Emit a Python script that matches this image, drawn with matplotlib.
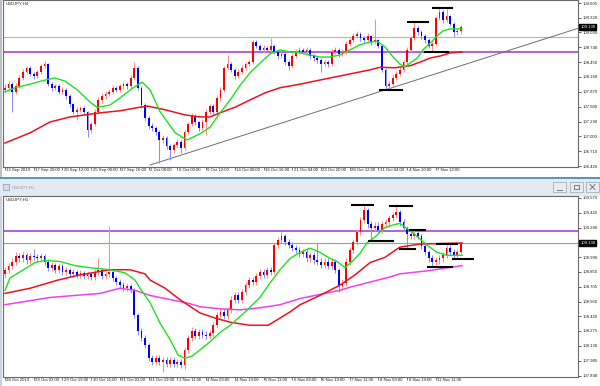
import numpy as np
import matplotlib
matplotlib.use("Agg")
import matplotlib.pyplot as plt
from matplotlib.patches import Rectangle
from matplotlib.transforms import blended_transform_factory

plt.rcParams['font.family'] = ['Liberation Sans', 'DejaVu Sans']

# ---------------- USDJPY H4 (top window) ----------------
h4_open = [107.90, 107.95, 108.02, 107.87, 107.98, 108.14, 108.26, 108.34, 108.22, 108.18,
           108.26, 108.38, 108.41, 108.02, 107.95, 107.98, 107.87, 107.91, 107.79, 107.63,
           107.48, 107.52, 107.55, 107.48, 107.13, 107.24, 107.48, 107.71, 107.79, 107.83,
           107.87, 107.95, 107.91, 107.98, 108.02, 107.98, 108.14, 108.34, 107.95, 107.61,
           107.36, 107.20, 107.16, 107.09, 106.93, 106.97, 106.81, 106.73, 106.83, 106.89,
           106.77, 107.09, 107.24, 107.40, 107.28, 107.16, 107.28, 107.48, 107.59, 107.48,
           107.75, 107.91, 108.34, 108.41, 108.30, 108.18, 108.26, 108.34, 108.41, 108.45,
           108.84, 108.77, 108.69, 108.73, 108.69, 108.77, 108.65, 108.57, 108.61, 108.45,
           108.38, 108.57, 108.65, 108.69, 108.65, 108.69, 108.57, 108.53, 108.49, 108.41,
           108.45, 108.41, 108.65, 108.69, 108.61, 108.65, 108.81, 108.88, 108.96, 109.00,
           108.92, 108.88, 108.96, 108.84, 108.88, 108.77, 108.30, 107.98, 108.02, 108.14,
           108.22, 108.30, 108.45, 108.69, 108.92, 109.12, 109.04, 108.96, 108.88, 108.77,
           108.81, 109.31, 109.43, 109.27, 109.35, 109.20, 109.04, 109.05]
h4_high = [108.02, 108.08, 108.06, 108.04, 108.19, 108.31, 108.38, 108.37, 108.26, 108.30,
           108.42, 108.47, 108.44, 108.06, 108.03, 108.02, 107.96, 107.94, 107.83, 107.66,
           107.57, 107.60, 107.59, 107.50, 107.29, 107.53, 107.76, 107.84, 107.89, 107.92,
           108.00, 107.99, 108.03, 108.07, 108.06, 108.19, 108.45, 108.38, 107.98, 107.65,
           107.40, 107.26, 107.20, 107.12, 107.03, 107.00, 106.86, 106.88, 106.94, 106.92,
           107.13, 107.29, 107.45, 107.44, 107.31, 107.33, 107.53, 107.64, 107.63, 107.80,
           107.96, 108.38, 108.59, 108.45, 108.33, 108.31, 108.39, 108.46, 108.50, 108.88,
           108.88, 108.80, 108.78, 108.77, 108.92, 108.80, 108.69, 108.66, 108.64, 108.49,
           108.62, 108.70, 108.74, 108.73, 108.74, 108.72, 108.61, 108.57, 108.53, 108.50,
           108.49, 108.70, 108.74, 108.72, 108.70, 108.86, 108.93, 109.01, 109.05, 109.03,
           108.96, 109.01, 108.99, 109.29, 108.91, 108.80, 108.33, 108.08, 108.19, 108.27,
           108.35, 108.50, 108.74, 108.97, 109.23, 109.16, 109.08, 109.00, 108.92, 108.86,
           109.35, 109.51, 109.46, 109.49, 109.38, 109.23, 109.09, 109.17]
h4_low = [107.84, 107.90, 107.48, 107.82, 107.94, 108.10, 108.21, 108.18, 108.12, 108.14,
          108.22, 108.33, 107.98, 107.89, 107.90, 107.82, 107.83, 107.74, 107.58, 107.43,
          107.32, 107.47, 107.42, 106.99, 107.06, 107.20, 107.44, 107.66, 107.74, 107.78,
          107.82, 107.86, 107.87, 107.93, 107.93, 107.94, 108.10, 107.90, 107.56, 107.31,
          107.15, 107.10, 107.03, 106.48, 106.87, 106.76, 106.54, 106.68, 106.78, 106.68,
          106.73, 107.05, 107.20, 107.23, 107.11, 107.12, 107.03, 107.44, 107.43, 107.44,
          107.70, 107.87, 108.30, 108.25, 108.12, 108.14, 108.22, 108.30, 108.37, 108.41,
          108.72, 108.64, 108.65, 108.64, 108.65, 108.60, 108.52, 108.53, 108.40, 108.30,
          108.34, 108.53, 108.61, 108.60, 108.61, 108.52, 108.48, 108.44, 108.26, 108.37,
          108.36, 108.37, 108.61, 108.56, 108.57, 108.61, 108.77, 108.84, 108.92, 108.87,
          108.83, 108.84, 108.79, 108.80, 108.72, 108.25, 107.91, 107.91, 107.98, 108.10,
          108.18, 108.26, 108.41, 108.65, 108.88, 108.99, 108.91, 108.83, 108.72, 108.67,
          108.77, 109.27, 109.22, 109.23, 109.15, 108.94, 108.99, 109.00]
h4_close = [107.95, 108.02, 107.87, 107.98, 108.14, 108.26, 108.34, 108.22, 108.18, 108.26,
            108.38, 108.41, 108.02, 107.95, 107.98, 107.87, 107.91, 107.79, 107.63, 107.48,
            107.52, 107.55, 107.48, 107.13, 107.24, 107.48, 107.71, 107.79, 107.83, 107.87,
            107.95, 107.91, 107.98, 108.02, 107.98, 108.14, 108.34, 107.95, 107.61, 107.36,
            107.20, 107.16, 107.09, 106.93, 106.97, 106.81, 106.73, 106.83, 106.89, 106.77,
            107.09, 107.24, 107.40, 107.28, 107.16, 107.28, 107.48, 107.59, 107.48, 107.75,
            107.91, 108.34, 108.41, 108.30, 108.18, 108.26, 108.34, 108.41, 108.45, 108.84,
            108.77, 108.69, 108.73, 108.69, 108.77, 108.65, 108.57, 108.61, 108.45, 108.38,
            108.57, 108.65, 108.69, 108.65, 108.69, 108.57, 108.53, 108.49, 108.41, 108.45,
            108.41, 108.65, 108.69, 108.61, 108.65, 108.81, 108.88, 108.96, 109.00, 108.92,
            108.88, 108.96, 108.84, 108.88, 108.77, 108.30, 107.98, 108.02, 108.14, 108.22,
            108.30, 108.45, 108.69, 108.92, 109.12, 109.04, 108.96, 108.88, 108.77, 108.81,
            109.31, 109.43, 109.27, 109.35, 109.20, 109.04, 109.05, 109.13]

# moving averages (candle index, price)
h4_fast_x = [0.0, 2.8, 7.0, 11.1, 13.9, 16.7, 20.1, 23.7, 25.6, 29.2, 32.0, 35.7, 38.2, 40.4,
             43.2, 47.4, 50.7, 54.3, 57.1, 59.9, 62.7, 65.5, 68.2, 71.0, 73.8, 76.6, 79.4,
             82.2, 85.0, 87.7, 90.5, 93.3, 96.1, 98.9, 101.7, 103.6, 105.8, 108.1, 110.0,
             111.4, 112.8, 114.8, 116.4, 118.4, 120.3, 122.0, 124.0, 127.3]
h4_fast_y = [107.87, 107.95, 108.02, 108.10, 108.14, 108.08, 107.91, 107.67, 107.57, 107.61,
             107.75, 107.95, 108.06, 107.91, 107.48, 107.07, 106.93, 107.05, 107.18, 107.46,
             107.71, 108.00, 108.24, 108.43, 108.61, 108.69, 108.65, 108.63, 108.59, 108.55,
             108.55, 108.59, 108.69, 108.79, 108.84, 108.86, 108.75, 108.55, 108.41, 108.36,
             108.43, 108.53, 108.69, 108.82, 108.96, 109.06, 109.10, 109.10]
h4_slow_x = [0.0, 7.0, 12.5, 18.1, 26.5, 32.0, 37.6, 39.8, 44.6, 50.1, 54.3, 57.1, 59.9, 64.1,
             68.2, 72.4, 76.6, 82.2, 87.7, 93.3, 97.5, 101.7, 104.5, 108.6, 112.8, 115.6,
             118.4, 121.2, 124.0, 127.3]
h4_slow_y = [106.87, 107.07, 107.28, 107.38, 107.46, 107.50, 107.57, 107.59, 107.52, 107.42,
             107.38, 107.38, 107.46, 107.57, 107.71, 107.85, 107.95, 108.02, 108.10, 108.18,
             108.24, 108.30, 108.35, 108.34, 108.38, 108.45, 108.53, 108.57, 108.63, 108.65]
h4_trend_x = [40.4, 160.0]
h4_trend_y = [106.44, 109.12]
h4_hlines = [(108.94, '#9cc89c', 0.8), (108.65, '#b45ee0', 1.4)]
h4_marks = [(104.5, 110.6, 107.91), (112.3, 117.8, 109.23), (117.0, 123.4, 108.65),
            (119.2, 124.5, 109.51)]
h4_yticks = ["109.605", "109.320", "109.030", "108.740", "108.450", "108.160", "107.870",
             "107.580", "107.290", "107.000", "106.710", "106.420"]
h4_xlabels = ["13 Sep 2019", "17 Sep 20:00", "20 Sep 12:00", "25 Sep 00:00", "27 Sep 16:00",
              "2 Oct 08:00", "6 Oct 00:00", "9 Oct 12:00", "14 Oct 00:00", "16 Oct 16:00",
              "21 Oct 04:00", "23 Oct 20:00", "28 Oct 12:00", "31 Oct 04:00", "4 Nov 20:00",
              "7 Nov 12:00"]

# ---------------- USDJPY H1 (bottom window) ----------------
h1_open = [108.83, 108.87, 108.91, 108.95, 109.00, 108.98, 109.01, 108.96, 109.00, 108.99,
           108.98, 109.00, 108.95, 108.89, 108.92, 108.87, 108.91, 108.85, 108.87, 108.83,
           108.85, 108.82, 108.84, 108.81, 108.83, 108.80, 108.85, 108.87, 108.81, 108.83,
           108.85, 108.79, 108.75, 108.72, 108.69, 108.71, 108.67, 108.43, 108.27, 108.21,
           108.14, 108.01, 107.97, 108.01, 107.97, 107.99, 107.95, 107.99, 107.95, 107.97,
           107.94, 108.09, 108.21, 108.27, 108.23, 108.26, 108.24, 108.23, 108.25, 108.33,
           108.43, 108.46, 108.42, 108.48, 108.58, 108.62, 108.58, 108.65, 108.72, 108.77,
           108.75, 108.81, 108.85, 108.82, 108.87, 108.85, 109.11, 109.16, 109.20, 109.14,
           109.11, 109.08, 109.06, 109.02, 109.04, 108.98, 109.01, 108.96, 108.95, 108.92,
           108.95, 108.91, 108.95, 108.87, 108.71, 108.74, 108.95, 109.06, 109.14, 109.24,
           109.35, 109.45, 109.31, 109.28, 109.30, 109.26, 109.31, 109.33, 109.37, 109.40,
           109.43, 109.33, 109.28, 109.22, 109.20, 109.23, 109.20, 109.10, 109.04, 108.98,
           108.95, 108.96, 108.98, 109.01, 109.08, 109.04, 109.00, 109.04]
h1_high = [108.90, 108.94, 108.98, 109.04, 109.03, 109.04, 109.03, 109.03, 109.07, 109.02,
           109.03, 109.02, 108.97, 108.95, 108.94, 108.94, 108.93, 108.90, 108.89, 108.88,
           108.87, 108.87, 108.86, 108.86, 108.85, 108.88, 108.98, 108.89, 108.86, 109.30,
           108.87, 108.81, 108.78, 108.75, 108.74, 108.73, 108.69, 108.45, 108.30, 108.24,
           108.16, 108.04, 108.04, 108.04, 108.02, 108.02, 108.02, 108.02, 108.00, 108.00,
           108.12, 108.24, 108.31, 108.30, 108.29, 108.29, 108.27, 108.28, 108.36, 108.46,
           108.49, 108.49, 108.51, 108.61, 108.65, 108.65, 108.68, 108.75, 108.80, 108.80,
           108.84, 108.88, 108.88, 108.90, 108.90, 109.14, 109.19, 109.24, 109.22, 109.17,
           109.14, 109.11, 109.09, 109.07, 109.07, 109.04, 109.04, 109.13, 108.98, 108.98,
           108.98, 108.98, 108.97, 108.89, 108.78, 108.98, 109.09, 109.17, 109.27, 109.38,
           109.50, 109.47, 109.34, 109.33, 109.33, 109.34, 109.36, 109.40, 109.43, 109.49,
           109.45, 109.36, 109.30, 109.25, 109.26, 109.26, 109.22, 109.12, 109.06, 109.01,
           108.99, 109.01, 109.04, 109.11, 109.11, 109.07, 109.07, 109.14]
h1_low = [108.79, 108.84, 108.88, 108.92, 108.95, 108.95, 108.93, 108.93, 108.96, 108.95,
          108.95, 108.92, 108.86, 108.86, 108.84, 108.84, 108.82, 108.82, 108.80, 108.80,
          108.79, 108.79, 108.78, 108.78, 108.77, 108.77, 108.82, 108.78, 108.78, 108.80,
          108.76, 108.72, 108.69, 108.66, 108.66, 108.64, 108.40, 108.24, 108.18, 108.11,
          107.98, 107.94, 107.94, 107.94, 107.88, 107.92, 107.92, 107.92, 107.92, 107.91,
          107.90, 108.06, 108.18, 108.20, 108.20, 108.21, 108.20, 108.20, 108.22, 108.30,
          108.40, 108.39, 108.39, 108.45, 108.55, 108.55, 108.55, 108.62, 108.69, 108.72,
          108.72, 108.78, 108.79, 108.79, 108.82, 108.83, 109.08, 109.13, 109.11, 109.08,
          109.05, 109.03, 108.99, 108.99, 108.95, 108.95, 108.93, 108.92, 108.89, 108.89,
          108.88, 108.88, 108.84, 108.65, 108.68, 108.71, 108.92, 109.03, 109.11, 109.21,
          109.32, 109.28, 109.15, 109.25, 109.23, 109.23, 109.28, 109.30, 109.34, 109.37,
          109.30, 109.25, 109.07, 109.17, 109.17, 109.17, 109.07, 109.01, 108.95, 108.90,
          108.92, 108.93, 108.95, 108.98, 109.01, 108.97, 108.97, 109.01]
h1_close = [108.87, 108.91, 108.95, 109.00, 108.98, 109.01, 108.96, 109.00, 108.99, 108.98,
            109.00, 108.95, 108.89, 108.92, 108.87, 108.91, 108.85, 108.87, 108.83, 108.85,
            108.82, 108.84, 108.81, 108.83, 108.80, 108.85, 108.87, 108.81, 108.83, 108.85,
            108.79, 108.75, 108.72, 108.69, 108.71, 108.67, 108.43, 108.27, 108.21, 108.14,
            108.01, 107.97, 108.01, 107.97, 107.99, 107.95, 107.99, 107.95, 107.97, 107.94,
            108.09, 108.21, 108.27, 108.23, 108.26, 108.24, 108.23, 108.25, 108.33, 108.43,
            108.46, 108.42, 108.48, 108.58, 108.62, 108.58, 108.65, 108.72, 108.77, 108.75,
            108.81, 108.85, 108.82, 108.87, 108.85, 109.11, 109.16, 109.20, 109.14, 109.11,
            109.08, 109.06, 109.02, 109.04, 108.98, 109.01, 108.96, 108.95, 108.92, 108.95,
            108.91, 108.95, 108.87, 108.71, 108.74, 108.95, 109.06, 109.14, 109.24, 109.35,
            109.45, 109.31, 109.28, 109.30, 109.26, 109.31, 109.33, 109.37, 109.40, 109.43,
            109.33, 109.28, 109.22, 109.20, 109.23, 109.20, 109.10, 109.04, 108.98, 108.95,
            108.96, 108.98, 109.01, 109.08, 109.04, 109.00, 109.04, 109.13]

h1_fast_x = [0.0, 1.4, 4.2, 8.4, 11.1, 15.3, 19.5, 23.7, 29.2, 33.4, 36.2, 37.6, 40.4, 43.2,
             46.0, 48.2, 50.1, 52.1, 54.3, 57.1, 59.9, 62.7, 66.9, 71.0, 73.8, 76.6, 79.4,
             82.2, 85.0, 87.7, 90.5, 92.5, 94.7, 96.7, 98.9, 100.8, 103.1, 105.8, 108.6,
             110.0, 113.6, 117.5, 120.3, 123.1, 127.3]
h1_fast_y = [108.67, 108.79, 108.85, 108.94, 108.96, 108.95, 108.91, 108.89, 108.87, 108.84,
             108.77, 108.69, 108.55, 108.35, 108.19, 108.04, 108.01, 108.03, 108.09, 108.17,
             108.26, 108.33, 108.46, 108.60, 108.74, 108.87, 108.98, 109.04, 109.08, 109.04,
             108.98, 108.95, 108.89, 108.95, 109.03, 109.13, 109.19, 109.28, 109.31, 109.32,
             109.23, 109.11, 109.04, 109.01, 109.01]
h1_slow_x = [0.0, 7.0, 14.8, 20.9, 29.2, 34.8, 39.0, 40.4, 44.6, 48.7, 54.3, 58.5, 62.7, 68.2,
             73.3, 76.6, 79.4, 82.2, 87.7, 93.3, 97.5, 101.7, 105.8, 110.0, 115.6, 127.3]
h1_slow_y = [108.64, 108.69, 108.77, 108.82, 108.87, 108.87, 108.83, 108.77, 108.69, 108.58,
             108.45, 108.40, 108.36, 108.33, 108.33, 108.40, 108.46, 108.53, 108.62, 108.72,
             108.82, 108.94, 108.99, 109.09, 109.12, 109.13]
h1_long_x = [0.0, 12.5, 26.5, 32.0, 36.2, 40.4, 46.0, 51.5, 54.3, 59.9, 65.5, 71.0, 76.6, 82.2,
             87.7, 93.3, 96.1, 101.7, 107.2, 110.0, 117.8, 127.3]
h1_long_y = [108.53, 108.60, 108.64, 108.69, 108.67, 108.62, 108.58, 108.54, 108.51, 108.49,
             108.48, 108.50, 108.53, 108.59, 108.63, 108.67, 108.70, 108.75, 108.80, 108.83,
             108.86, 108.91]
h1_hlines = [(109.25, '#b45ee0', 1.4), (109.13, '#7fb07f', 0.8)]
h1_marks = [(96.7, 102.5, 109.50), (101.4, 108.1, 109.15), (107.2, 113.4, 109.49),
            (110.0, 114.2, 109.07), (112.8, 117.0, 109.26), (120.3, 125.9, 109.12),
            (117.8, 124.5, 108.90), (124.8, 130.4, 108.97)]
h1_yticks = ["109.570", "109.425", "109.280", "108.990", "108.850", "108.705", "108.560",
             "108.420", "108.275", "108.130", "107.985", "107.840"]
h1_xlabels = ["28 Oct 2019", "29 Oct 03:00", "29 Oct 19:00", "30 Oct 11:00", "31 Oct 03:00",
              "31 Oct 19:00", "1 Nov 11:00", "4 Nov 03:00", "4 Nov 19:00", "5 Nov 11:00",
              "6 Nov 03:00", "6 Nov 19:00", "7 Nov 11:00", "8 Nov 03:00", "8 Nov 19:00",
              "11 Nov 11:00"]

W, H = 600, 386
FS = 3.05


def px_rect(x0, y0, x1, y1):
    return [x0 / W, 1 - y1 / H, (x1 - x0) / W, (y1 - y0) / H]


def draw_candles(ax, o, h, l, c, min_body):
    o, h, l, c = map(np.asarray, (o, h, l, c))
    x = np.arange(len(c))
    up = c >= o
    ax.vlines(x[up], l[up], h[up], color='#ff8c8c', lw=0.75, zorder=3)
    ax.vlines(x[~up], l[~up], h[~up], color='#8c8cff', lw=0.75, zorder=3)
    body = np.maximum(np.abs(c - o), min_body)
    bottom = np.minimum(o, c)
    ax.bar(x[up], body[up], bottom=bottom[up], width=0.5, color='#ff0000', lw=0, zorder=4)
    ax.bar(x[~up], body[~up], bottom=bottom[~up], width=0.5, color='#0000ff', lw=0, zorder=4)


def style_panel(ax, ylim, yticks, xlabels, title, price):
    ax.set_xlim(-0.56, 159.6)
    ax.set_ylim(*ylim)
    for s in ax.spines.values():
        s.set_color('#6a6a6a')
        s.set_linewidth(0.8)
    ax.yaxis.tick_right()
    ax.set_yticks([float(t) for t in yticks])
    ax.set_yticklabels(yticks)
    ax.tick_params(axis='y', labelsize=FS, length=2, width=0.5, pad=1.2, colors='#202020')
    ax.set_xticks([k * 8 for k in range(len(xlabels))])
    ax.set_xticklabels([])
    ax.tick_params(axis='x', length=2, width=0.5, colors='#404040')
    tr = blended_transform_factory(ax.transData, ax.transAxes)
    for k, lab in enumerate(xlabels):
        ax.text(k * 8 + 0.4, -0.008, lab, transform=tr, ha='left', va='top',
                fontsize=FS, color='#202020')
    ax.text(0.004, 0.99, title, transform=ax.transAxes, ha='left', va='top',
            fontsize=FS, color='#202020')
    trp = blended_transform_factory(ax.transAxes, ax.transData)
    ax.text(1.004, price, "%.3f" % price, transform=trp, ha='left', va='center',
            fontsize=FS, color='white', zorder=10,
            bbox=dict(boxstyle='square,pad=0.25', fc='black', ec='black'))


fig = plt.figure(figsize=(W / 100, H / 100), dpi=100)
fig.patch.set_facecolor('white')

# window chrome
bg = fig.add_axes([0, 0, 1, 1])
bg.set_xlim(0, W)
bg.set_ylim(H, 0)
bg.axis('off')
bg.add_patch(Rectangle((0, 177), W, 19, fc='#e3eaf1', ec='none'))
bg.plot([0, W], [177.5, 177.5], color='#3c8aa6', lw=1.2)
bg.add_patch(Rectangle((0, 0), 2, 177, fc='#b8c0c8', ec='none'))
bg.add_patch(Rectangle((0, 196), 2, H - 196, fc='#c8d4e0', ec='none'))
bg.add_patch(Rectangle((3, 184), 6, 6, fc='#d4dfe9', ec='#7fa0bc', lw=0.5))
bg.text(12, 187.5, "USDJPY,H1", fontsize=FS, color='#8a96a4', va='center', ha='left')
for bx in (553, 570, 586):
    bg.add_patch(Rectangle((bx, 182), 13, 10, fc='#e9ecef', ec='#a8b2bc', lw=0.6))
bg.plot([557, 562], [189.5, 189.5], color='#606870', lw=0.6)
bg.add_patch(Rectangle((574, 185), 5, 4, fc='none', ec='#606870', lw=0.6))
bg.plot([590, 595], [184.5, 189.5], color='#606870', lw=0.6)
bg.plot([590, 595], [189.5, 184.5], color='#606870', lw=0.6)

# top: H4
ax1 = fig.add_axes(px_rect(3, 0, 578, 167))
for y, col, lw in h4_hlines:
    ax1.axhline(y, color=col, lw=lw, zorder=2)
ax1.plot(h4_trend_x, h4_trend_y, color='#6e6e6e', lw=0.7, zorder=2)
draw_candles(ax1, h4_open, h4_high, h4_low, h4_close, 0.02)
ax1.plot(h4_slow_x, h4_slow_y, color='#e8141e', lw=1.1, zorder=5)
ax1.plot(h4_fast_x, h4_fast_y, color='#1ee21e', lw=1.0, zorder=5)
for x0, x1, y in h4_marks:
    ax1.plot([x0, x1], [y, y], color='black', lw=1.5, zorder=6)
style_panel(ax1, (106.402, 109.664), h4_yticks, h4_xlabels, "USDJPY,H4", h4_close[-1])

# bottom: H1
ax2 = fig.add_axes(px_rect(3, 196, 578, 377))
for y, col, lw in h1_hlines:
    ax2.axhline(y, color=col, lw=lw, zorder=2)
draw_candles(ax2, h1_open, h1_high, h1_low, h1_close, 0.01)
ax2.plot(h1_long_x, h1_long_y, color='#f040f0', lw=1.1, zorder=5)
ax2.plot(h1_slow_x, h1_slow_y, color='#e8141e', lw=1.1, zorder=5)
ax2.plot(h1_fast_x, h1_fast_y, color='#1ee21e', lw=1.0, zorder=5)
for x0, x1, y in h1_marks:
    ax2.plot([x0, x1], [y, y], color='black', lw=1.5, zorder=6)
style_panel(ax2, (107.827, 109.587), h1_yticks, h1_xlabels, "USDJPY,H1", h1_close[-1])

fig.savefig('out.png', dpi=100)
